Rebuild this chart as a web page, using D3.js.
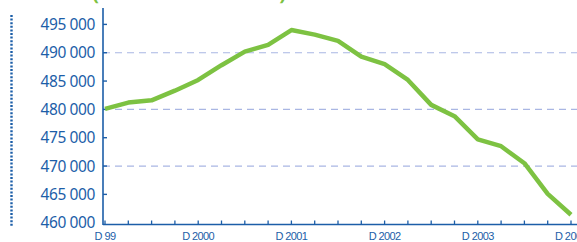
<!DOCTYPE html>
<html><head><meta charset="utf-8">
<script src="https://cdn.jsdelivr.net/npm/d3@7"></script>
<style>body{margin:0;background:#fff;}svg{display:block;}</style>
</head><body>
<script>
const quarters = ["D 99","M 00","J 00","S 00","D 2000","M 01","J 01","S 01","D 2001","M 02","J 02","S 02","D 2002","M 03","J 03","S 03","D 2003","M 04","J 04","S 04","D 2004"];
const values = [480100,481200,481600,483300,485200,487800,490200,491400,494000,493200,492100,489300,488000,485200,480800,478800,474700,473500,470500,465100,461400];
const yTicks = [460000,465000,470000,475000,480000,485000,490000,495000];
const gridValues = [470000,480000,490000];
const xLabelIdx = [0,4,8,12,16,20];

const W=577,H=242;
const svg=d3.select("body").append("svg").attr("width",W).attr("height",H);
const blue="#1c5ea8";
const x=d3.scaleLinear().domain([0,quarters.length-1]).range([105,571]);
const y=d3.scaleLinear().domain([460000,495000]).range([222.7,24.4]);
const axisX=103, baseY=224.5;

// title (cut off at top)
svg.append("text").attr("x",22).attr("y",0.4).attr("fill","#7dc242").attr("font-family","Noto Sans")
  .attr("font-weight","bold").attr("font-size",20).attr("textLength",264)
  .text("Effectifs (en nombre de salariés)");

// dotted vertical line at left
svg.append("line").attr("x1",11.5).attr("x2",11.5).attr("y1",15).attr("y2",227)
  .attr("stroke",blue).attr("stroke-width",2.4).attr("stroke-dasharray","2,1.6");

// grid
svg.selectAll(".grid").data(gridValues).join("line")
  .attr("x1",axisX).attr("x2",W).attr("y1",d=>y(d)).attr("y2",d=>y(d))
  .attr("stroke","#a9b6e3").attr("stroke-width",1.2).attr("stroke-dasharray","7,5");

// y axis
svg.append("line").attr("x1",axisX).attr("x2",axisX).attr("y1",8).attr("y2",baseY+0.5).attr("stroke",blue).attr("stroke-width",1.6);
svg.selectAll(".yt").data(yTicks.filter(v=>v>460000)).join("line")
  .attr("x1",axisX).attr("x2",axisX+4).attr("y1",d=>y(d)).attr("y2",d=>y(d)).attr("stroke",blue).attr("stroke-width",1.4);
svg.selectAll(".yl").data(yTicks).join("text")
  .attr("x",95).attr("y",d=>y(d)+5.5).attr("text-anchor","end")
  .attr("font-family","Noto Sans").attr("font-size",15.5).attr("fill",blue).attr("letter-spacing","-0.4")
  .text(d=>d3.format(",")(d).replace(/,/g," "));

// x axis
svg.append("line").attr("x1",axisX).attr("x2",W).attr("y1",baseY).attr("y2",baseY).attr("stroke",blue).attr("stroke-width",1.6);
svg.selectAll(".xt").data(d3.range(quarters.length)).join("line")
  .attr("x1",d=>x(d)).attr("x2",d=>x(d)).attr("y1",baseY).attr("y2",baseY-4).attr("stroke",blue).attr("stroke-width",1.3);
svg.selectAll(".xl").data(xLabelIdx).join("text")
  .attr("x",d=>x(d)).attr("y",240).attr("text-anchor","middle")
  .attr("font-family","Liberation Sans").attr("font-size",11).attr("fill",blue).attr("letter-spacing","-0.6")
  .text(d=>quarters[d]);

// line
svg.append("path").datum(values)
  .attr("d",d3.line().x((d,i)=>x(i)).y(d=>y(d)))
  .attr("fill","none").attr("stroke","#7dc242").attr("stroke-width",4.5).attr("stroke-linejoin","round");
</script>
</body></html>
